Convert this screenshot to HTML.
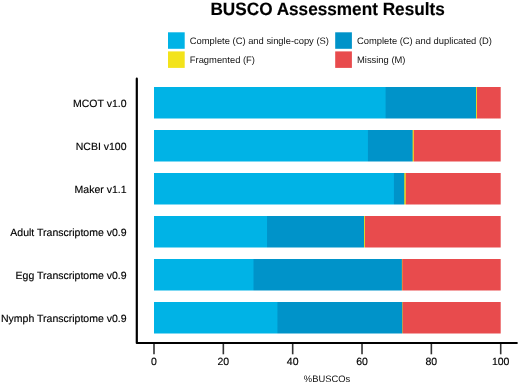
<!DOCTYPE html>
<html><head><meta charset="utf-8"><style>
html,body{margin:0;padding:0;background:#fff;}
svg{display:block;will-change:transform;}
text{font-family:"Liberation Sans",sans-serif;fill:#000;stroke:#000;stroke-width:0.15px;text-rendering:geometricPrecision;}
.lab{font-size:10.5px;}
.leg{font-size:9.4px;stroke-width:0;fill:#111;}
.title{font-size:17.2px;font-weight:bold;fill:#000;}
</style></head><body>
<svg width="520" height="384" viewBox="0 0 520 384">
<rect width="520" height="384" fill="#fff"/>
<linearGradient id="g0" gradientUnits="userSpaceOnUse" x1="154.00" y1="0" x2="500.70" y2="0"><stop offset="0.00000" stop-color="#00b3e6"/><stop offset="0.66484" stop-color="#00b3e6"/><stop offset="0.66772" stop-color="#00a6da"/><stop offset="0.67061" stop-color="#0093c9"/><stop offset="0.92731" stop-color="#0093c9"/><stop offset="0.93020" stop-color="#ded52c"/><stop offset="0.93308" stop-color="#e84b4d"/><stop offset="1.00000" stop-color="#e84b4d"/></linearGradient>
<rect x="154.00" y="87.00" width="346.70" height="31.5" fill="url(#g0)"/>
<text x="126.5" y="106.85" text-anchor="end" class="lab">MCOT v1.0</text>
<linearGradient id="g1" gradientUnits="userSpaceOnUse" x1="154.00" y1="0" x2="500.70" y2="0"><stop offset="0.00000" stop-color="#00b3e6"/><stop offset="0.61292" stop-color="#00b3e6"/><stop offset="0.61581" stop-color="#00b0e4"/><stop offset="0.61869" stop-color="#0093c9"/><stop offset="0.74272" stop-color="#0093c9"/><stop offset="0.74560" stop-color="#58b08a"/><stop offset="0.74849" stop-color="#f0bd28"/><stop offset="0.75137" stop-color="#e84b4d"/><stop offset="1.00000" stop-color="#e84b4d"/></linearGradient>
<rect x="154.00" y="130.00" width="346.70" height="31.5" fill="url(#g1)"/>
<text x="126.5" y="149.85" text-anchor="end" class="lab">NCBI v100</text>
<linearGradient id="g2" gradientUnits="userSpaceOnUse" x1="154.00" y1="0" x2="500.70" y2="0"><stop offset="0.00000" stop-color="#00b3e6"/><stop offset="0.68791" stop-color="#00b3e6"/><stop offset="0.69080" stop-color="#00b0e4"/><stop offset="0.69368" stop-color="#0093c9"/><stop offset="0.71964" stop-color="#0093c9"/><stop offset="0.72253" stop-color="#a6ca52"/><stop offset="0.72541" stop-color="#f0b62a"/><stop offset="0.72830" stop-color="#e84b4d"/><stop offset="1.00000" stop-color="#e84b4d"/></linearGradient>
<rect x="154.00" y="173.00" width="346.70" height="31.5" fill="url(#g2)"/>
<text x="126.5" y="192.85" text-anchor="end" class="lab">Maker v1.1</text>
<linearGradient id="g3" gradientUnits="userSpaceOnUse" x1="154.00" y1="0" x2="500.70" y2="0"><stop offset="0.00000" stop-color="#00b3e6"/><stop offset="0.32449" stop-color="#00b3e6"/><stop offset="0.32737" stop-color="#0094ca"/><stop offset="0.33026" stop-color="#0093c9"/><stop offset="0.60427" stop-color="#0093c9"/><stop offset="0.60715" stop-color="#dad62e"/><stop offset="0.61004" stop-color="#e84b4d"/><stop offset="1.00000" stop-color="#e84b4d"/></linearGradient>
<rect x="154.00" y="216.00" width="346.70" height="31.5" fill="url(#g3)"/>
<text x="126.5" y="235.85" text-anchor="end" class="lab">Adult Transcriptome v0.9</text>
<linearGradient id="g4" gradientUnits="userSpaceOnUse" x1="154.00" y1="0" x2="500.70" y2="0"><stop offset="0.00000" stop-color="#00b3e6"/><stop offset="0.28411" stop-color="#00b3e6"/><stop offset="0.28699" stop-color="#00a3d8"/><stop offset="0.28988" stop-color="#0093c9"/><stop offset="0.71099" stop-color="#0093c9"/><stop offset="0.71387" stop-color="#1b9cb6"/><stop offset="0.71676" stop-color="#eb7a3e"/><stop offset="0.71964" stop-color="#e84b4d"/><stop offset="1.00000" stop-color="#e84b4d"/></linearGradient>
<rect x="154.00" y="259.00" width="346.70" height="31.5" fill="url(#g4)"/>
<text x="126.5" y="278.85" text-anchor="end" class="lab">Egg Transcriptome v0.9</text>
<linearGradient id="g5" gradientUnits="userSpaceOnUse" x1="154.00" y1="0" x2="500.70" y2="0"><stop offset="0.00000" stop-color="#00b3e6"/><stop offset="0.35333" stop-color="#00b3e6"/><stop offset="0.35622" stop-color="#00a1d5"/><stop offset="0.35910" stop-color="#0093c9"/><stop offset="0.71387" stop-color="#0093c9"/><stop offset="0.71676" stop-color="#b69b56"/><stop offset="0.71964" stop-color="#e84b4d"/><stop offset="1.00000" stop-color="#e84b4d"/></linearGradient>
<rect x="154.00" y="302.00" width="346.70" height="31.5" fill="url(#g5)"/>
<text x="126.5" y="321.85" text-anchor="end" class="lab">Nymph Transcriptome v0.9</text>
<path d="M136.8 78.7 V343.0 H516.8" fill="none" stroke="#000" stroke-width="2.2" stroke-linecap="round" stroke-linejoin="round"/>
<line x1="154.00" y1="344" x2="154.00" y2="354.3" stroke="#333" stroke-width="1.6"/>
<text x="154.00" y="364.8" text-anchor="middle" class="lab">0</text>
<line x1="223.34" y1="344" x2="223.34" y2="354.3" stroke="#333" stroke-width="1.6"/>
<text x="223.34" y="364.8" text-anchor="middle" class="lab">20</text>
<line x1="292.68" y1="344" x2="292.68" y2="354.3" stroke="#333" stroke-width="1.6"/>
<text x="292.68" y="364.8" text-anchor="middle" class="lab">40</text>
<line x1="362.02" y1="344" x2="362.02" y2="354.3" stroke="#333" stroke-width="1.6"/>
<text x="362.02" y="364.8" text-anchor="middle" class="lab">60</text>
<line x1="431.36" y1="344" x2="431.36" y2="354.3" stroke="#333" stroke-width="1.6"/>
<text x="431.36" y="364.8" text-anchor="middle" class="lab">80</text>
<line x1="500.70" y1="344" x2="500.70" y2="354.3" stroke="#333" stroke-width="1.6"/>
<text x="500.70" y="364.8" text-anchor="middle" class="lab">100</text>
<text x="327" y="381.6" text-anchor="middle" class="leg">%BUSCOs</text>
<text transform="translate(327.6,14.9) scale(1,1.04)" x="0" y="0" text-anchor="middle" class="title">BUSCO Assessment Results</text>
<rect x="168" y="32.3" width="16.7" height="16.5" fill="#00B3E6"/>
<text x="189.8" y="43.6" class="leg">Complete (C) and single-copy (S)</text>
<rect x="168" y="51.4" width="16.7" height="16.5" fill="#F3E31B"/>
<text x="189.8" y="62.7" class="leg">Fragmented (F)</text>
<rect x="335.2" y="32.3" width="16.7" height="16.5" fill="#0093C9"/>
<text x="357.0" y="43.6" class="leg">Complete (C) and duplicated (D)</text>
<rect x="335.2" y="51.4" width="16.7" height="16.5" fill="#E84B4D"/>
<text x="357.0" y="62.7" class="leg">Missing (M)</text>
</svg>
</body></html>
